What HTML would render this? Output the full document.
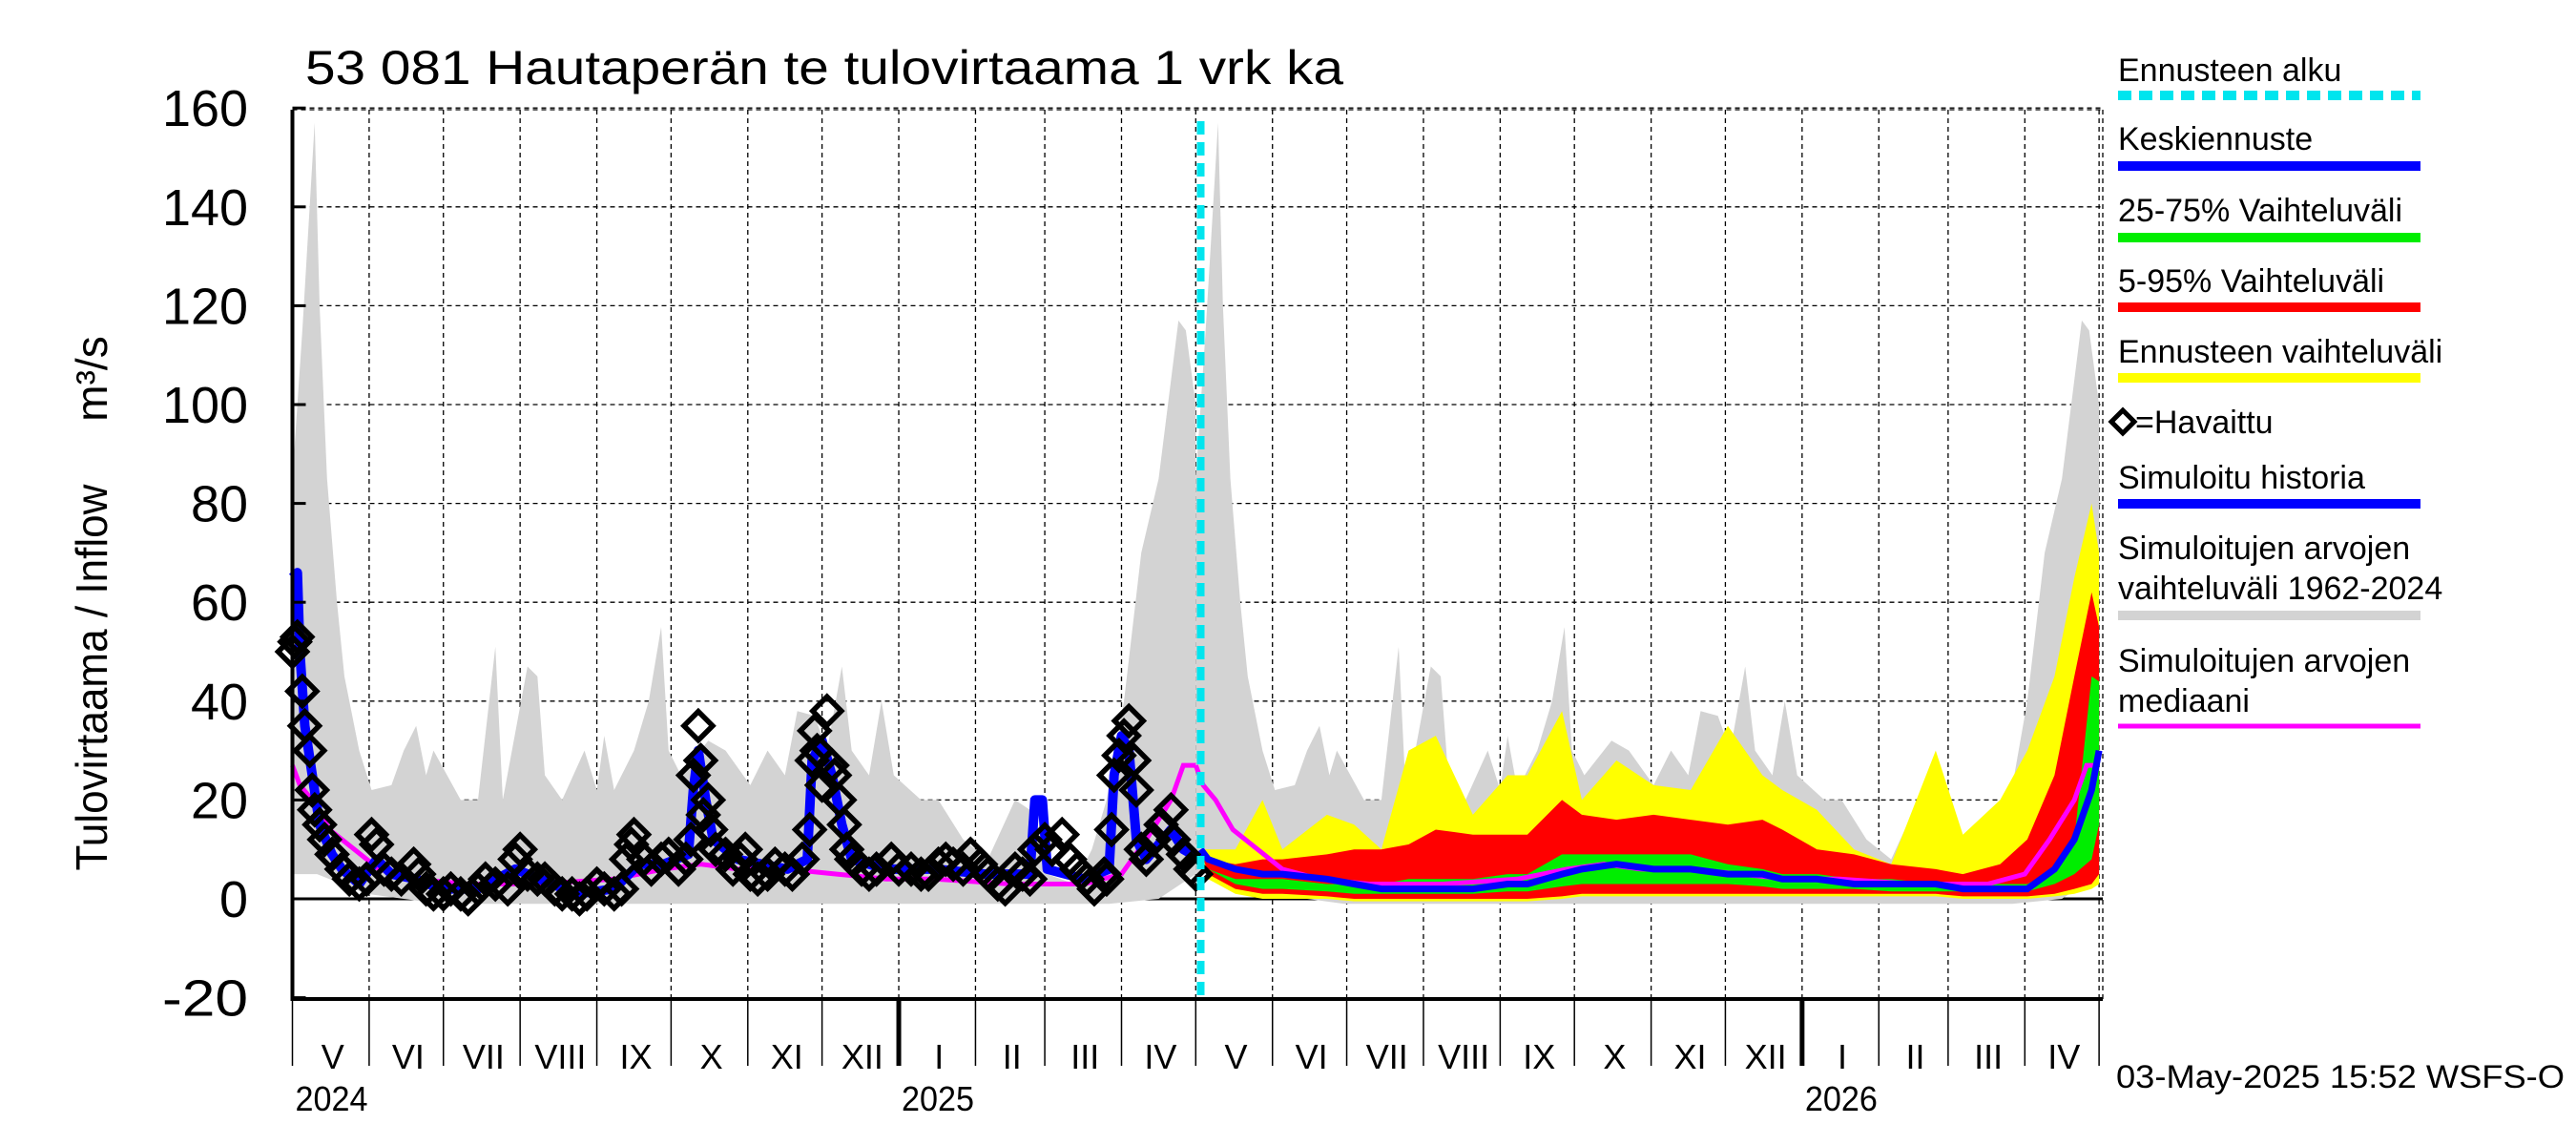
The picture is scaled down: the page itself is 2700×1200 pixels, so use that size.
<!DOCTYPE html>
<html><head><meta charset="utf-8"><style>
html,body{margin:0;padding:0;background:#fff;}
svg{display:block;font-family:"Liberation Sans",sans-serif;}
</style></head><body>
<svg id="chart" width="2700" height="1200" viewBox="0 0 2700 1200" xmlns="http://www.w3.org/2000/svg">
<rect x="0" y="0" width="2700" height="1200" fill="#fff"/>
<text x="320" y="88" font-size="50" textLength="1088" lengthAdjust="spacingAndGlyphs">53 081 Hautaperän te tulovirtaama 1 vrk ka</text>
<text transform="translate(112,710) rotate(-90)" font-size="46" text-anchor="middle" textLength="405" lengthAdjust="spacingAndGlyphs">Tulovirtaama / Inflow</text>
<text transform="translate(112,397) rotate(-90)" font-size="46" text-anchor="middle">m³/s</text>
<g id="grid"></g>
<g id="series"></g>
<g id="axes"></g>
<g id="legend"></g>
<text x="2218" y="1140" font-size="34" textLength="470" lengthAdjust="spacingAndGlyphs">03-May-2025 15:52 WSFS-O</text>
</svg>
<script>
// ---- data ----
const yTicks = [-20,0,20,40,60,80,100,120,140,160];
const monthLabels = ["V","VI","VII","VIII","IX","X","XI","XII","I","II","III","IV","V","VI","VII","VIII","IX","X","XI","XII","I","II","III","IV"];
const monthStarts = [0,31,61,92,123,153,184,214,245,276,304,335,365,396,426,457,488,518,549,579,610,641,669,700,730];
const yearLabels = ["2024","2025","2026"];
const yearDays = [0,245,610];
const forecastStart = 367;

// climatology (annual, days from May 1)
const climDays = [0,4,9,11,14,18,21,27,32,40,45,50,54,57,68,75,82,85,95,99,102,109,118,123,126,130,138,144,149,152,157,168,175,185,192,199,204,211,216,222,226,233,238,243,254,261,271,281,292,298,305,316,323,329,336,343,350,355,358,361,365];
const climMax = [85,115,157,120,85,60,45,30,22,23,30,35,25,30,20,20,51,20,47,45,25,20,30,22,33,22,30,40,55,30,25,32,30,23,30,25,38,37,30,47,30,25,40,25,20,20,12,8,20,18,5,3,10,20,40,70,85,105,117,115,100];
const climMinDays = [0,10,20,30,60,150,250,330,350,365];
const climMin = [5,5,3,1,-1,-1,-1,-1,0,5];
const medDays = [0,3,8,15,25,35,50,70,100,130,150,165,180,200,220,240,260,290,320,335,345,355,360,365];
const medVals = [27,23,20,14,10,6,4,3,3,4,6,7,6,6,5,4,4,3,3,5,12,20,27,27];

// observations
const obsDays = [0,1,2,4,5,7,8,9,11,13,16,20,23,27,30,32,34,37,40,44,49,51,54,57,61,64,68,71,75,78,82,87,90,92,95,99,102,106,109,113,116,119,123,126,130,133,135,137,138,142,145,149,152,156,159,161,162,164,165,166,168,169,171,175,178,181,183,185,188,192,195,199,202,206,209,210,211,212,214,216,218,219,221,223,224,226,230,233,236,242,245,250,254,257,261,264,267,271,274,278,281,285,288,292,295,298,300,304,307,311,314,317,321,324,328,329,331,332,334,336,338,340,341,343,345,348,351,355,356,360,363,365];
const obsVals = [50,52,53,42,35,30,22,18,15,12,9,6,4,3,4,13,11,6,5,4,7,5,2,1,1,2,1,0,2,4,3,2,8,10,5,4,4,2,1,1,0,1,3,2,1,2,8,11,13,8,6,8,9,6,8,12,25,35,28,17,20,14,10,9,6,8,10,5,4,5,7,6,5,8,14,28,34,30,23,38,27,25,20,15,10,8,6,5,6,8,6,6,5,5,7,8,7,6,9,7,5,3,2,6,5,4,10,12,10,13,8,6,4,2,5,4,14,25,29,33,36,28,22,10,8,12,15,18,12,9,6,5];
// simulated history
const histDays = [0,2,3,5,8,11,16,20,27,34,40,50,60,75,90,100,115,130,140,150,160,162,164,167,170,180,200,208,210,214,218,222,226,240,260,280,298,300,303,305,320,330,332,335,338,341,345,355,360,367];
const histVals = [65,66,50,35,25,15,9,6,3,8,5,4,2,2,6,4,1,2,7,7,9,22,30,20,12,8,6,8,28,32,25,15,8,6,6,5,5,20,20,6,4,6,25,33,30,12,8,14,10,8];

// forecast (days from May 1 2024)
const fcDays = [367,370,381,392,400,418,429,440,451,462,477,491,499,513,521,535,550,565,580,594,602,616,631,646,664,675,690,701,712,720,727,730];
const fcMax  = [10,10,10,20,10,17,15,10,30,33,17,25,25,38,20,28,23,22,35,25,22,18,10,7,30,13,20,30,45,65,80,70];
const fcP95  = [10,8,7,8,8,9,10,10,11,14,13,13,13,20,17,16,17,16,15,16,14,10,9,7,6,5,7,12,25,45,62,55];
const fcP75  = [10,6,4,4,4,3,3,3,4,4,4,5,5,9,9,9,9,9,7,6,5,5,4,4,3,3,3,3,6,12,45,44];
const fcMean = [10,8,6,5,5,4,3,2,2,2,2,3,3,5,6,7,6,6,5,5,4,4,3,3,3,2,2,2,6,12,22,30];
const fcP25  = [10,6,3,2,2,1.5,1,1,1,1,1,1.5,1.5,2.5,3,3,3,3,3,2.5,2,2,2,1.5,1.5,1.5,1.5,1.5,3,5,8,15];
const fcP05  = [10,5,2,1,1,0.5,0,0,0,0,0,0,0,0.5,1,1,1,1,1,1,1,1,1,1,1,0.5,0.5,0.5,1,2,3,5];
const fcMin  = [10,4,1,0,0,0,-0.5,-0.5,-0.5,-0.5,-0.5,-0.5,-0.5,0,0.5,0.5,0.5,0.5,0.5,0.5,0.5,0.5,0.5,0.5,0.5,0,0,0,0.5,1,2,3];

// ---- scales ----
const X0 = 306.5, PX_PER_DAY = 2.594, XR = 2204;
const Y0 = 942, PX_PER_UNIT = 5.18, YT = 115, YB = 1047;
function xs(d){ return X0 + d*PX_PER_DAY; }
function ys(v){ return Y0 - v*PX_PER_UNIT; }
const NS = "http://www.w3.org/2000/svg";
function mk(tag, parent, attrs){ const e=document.createElementNS(NS,tag); for(const k in attrs) e.setAttribute(k,attrs[k]); parent.appendChild(e); return e; }
function linePath(ds, vs, off){ return ds.map((d,i)=>(i?"L":"M")+xs(d+off).toFixed(1)+","+ys(vs[i]).toFixed(1)).join(""); }
function bandPath(ds, lo, dsHi, hi, off){
  let p = dsHi.map((d,i)=>(i?"L":"M")+xs(d+off).toFixed(1)+","+ys(hi[i]).toFixed(1)).join("");
  for(let i=ds.length-1;i>=0;i--) p += "L"+xs(ds[i]+off).toFixed(1)+","+ys(lo[i]).toFixed(1);
  return p+"Z";
}
const grid = document.getElementById('grid'), series = document.getElementById('series'), axes = document.getElementById('axes'), legend = document.getElementById('legend');

// grid
yTicks.forEach(t=>{
  if(t===-20) return;
  const l = mk('line', grid, {x1:X0,x2:XR,y1:ys(t),y2:ys(t),stroke:'#000','stroke-width':t===0?3:1.3,'stroke-dasharray':t===0?'none':'5,4'});
  
  
});
monthStarts.forEach(d=>{
  if(d===0) return;
  const l = mk('line', grid, {x1:xs(d),x2:xs(d),y1:YT,y2:YB,stroke:'#000','stroke-width':1.3,'stroke-dasharray':'5,4'});
  
  
});

// climatology band (two years)
[0,365].forEach(off=>{
  const p = mk('path', series, {d:bandPath(climMinDays, climMin, climDays, climMax, off), fill:'#d3d3d3'});
  
  
});
mk('rect', series, {x:XR+1,y:0,width:500,height:1200,fill:'#fff'});

// forecast bands
function fband(lo, hi, col, name){
  const p = mk('path', series, {d:bandPath(fcDays, lo, fcDays, hi, 0), fill:col});
  
  
}
fband(fcMin, fcMax, '#ffff00', 'forecast-range-band');
fband(fcP05, fcP95, '#ff0000', 'band-5-95');
fband(fcP25, fcP75, '#00ee00', 'band-25-75');

// median
[0,365].forEach(off=>{
  const p = mk('path', series, {d:linePath(medDays, medVals, off), fill:'none', stroke:'#ff00ff','stroke-width':5});
  
  
});
// simulated history
const hp = mk('path', series, {d:linePath(histDays, histVals, 0), fill:'none', stroke:'#0000ff','stroke-width':10,'stroke-linejoin':'round'});


// mean forecast
const mp = mk('path', series, {d:linePath(fcDays, fcMean, 0), fill:'none', stroke:'#0000ff','stroke-width':7});


// observations
obsDays.forEach((d,i)=>{
  const cx=xs(d), cy=ys(obsVals[i]), r=15;
  const p = mk('path', series, {d:`M${cx},${cy-r}L${cx+r},${cy}L${cx},${cy+r}L${cx-r},${cy}Z`, fill:'none', stroke:'#000','stroke-width':5.5});
  
  
});
// forecast start line
const fl = mk('line', series, {x1:xs(forecastStart),x2:xs(forecastStart),y1:YT+12,y2:YB,stroke:'#00e5ee','stroke-width':8,'stroke-dasharray':'14,8'});



// axes
mk('line', axes, {x1:X0,x2:X0,y1:YT,y2:YB,stroke:'#000','stroke-width':4});
mk('line', axes, {x1:X0-2,x2:XR,y1:YB,y2:YB,stroke:'#000','stroke-width':4});
mk('line', axes, {x1:X0,x2:XR,y1:YT,y2:YT,stroke:'#000','stroke-width':1.3,'stroke-dasharray':'5,4'});
mk('line', axes, {x1:XR,x2:XR,y1:YT,y2:YB,stroke:'#000','stroke-width':1.3,'stroke-dasharray':'5,4'});
yTicks.forEach(t=>{
  const tk = mk('line', axes, {x1:X0,x2:X0+14,y1:ys(t),y2:ys(t),stroke:'#000','stroke-width':3});
  
  
  const s = String(t);
  const tx = mk('text', axes, {x:260,y:ys(t)+19,'font-size':54,'text-anchor':'end',textLength:s.length*30,lengthAdjust:'spacingAndGlyphs'});
  tx.textContent = s;
  
  
});
monthStarts.forEach(d=>{
  const isYear = yearDays.includes(d) && d>0;
  const l = mk('line', axes, {x1:xs(d),x2:xs(d),y1:YB,y2:1117,stroke:'#000','stroke-width':isYear?5:1.5});
  
  
});
monthLabels.forEach((m,i)=>{
  const c = (xs(monthStarts[i])+xs(monthStarts[i+1]))/2;
  const t = mk('text', axes, {x:c+2,y:1120,'font-size':36,'text-anchor':'middle'});
  t.textContent = m;
  
  
});
yearLabels.forEach((y,i)=>{
  const t = mk('text', axes, {x:xs(yearDays[i])+3,y:1164,'font-size':36,textLength:76,lengthAdjust:'spacingAndGlyphs'});
  t.textContent = y;
  
  
});

// legend
const LX=2220, LX2=2537;
const legItems = [
  {t:["Ennusteen alku"], ty:[85], ly:100, col:'#00e5ee', dash:'14,8'},
  {t:["Keskiennuste"], ty:[157], ly:174, col:'#0000ff'},
  {t:["25-75% Vaihteluväli"], ty:[232], ly:249, col:'#00ee00'},
  {t:["5-95% Vaihteluväli"], ty:[306], ly:322, col:'#ff0000'},
  {t:["Ennusteen vaihteluväli"], ty:[380], ly:396, col:'#ffff00'},
  {t:["Simuloitu historia"], ty:[512], ly:528, col:'#0000ff'},
  {t:["Simuloitujen arvojen","vaihteluväli 1962-2024"], ty:[586,628], ly:645, col:'#d3d3d3'},
  {t:["Simuloitujen arvojen","mediaani"], ty:[704,746], ly:761, col:'#ff00ff', w:5}
];
legItems.forEach(it=>{
  const g = mk('g', legend, {});
  
  
  it.t.forEach((s,j)=>{ const tx=mk('text', g, {x:LX,y:it.ty[j],'font-size':34}); tx.textContent=s; });
  const a = {x1:LX,x2:LX2,y1:it.ly,y2:it.ly,stroke:it.col,'stroke-width':it.w||10};
  if(it.dash) a['stroke-dasharray']=it.dash;
  mk('line', g, a);
});
const hg = mk('g', legend, {});


mk('path', hg, {d:'M2225,430L2237,442L2225,454L2213,442Z',fill:'none',stroke:'#000','stroke-width':5});
const ht = mk('text', hg, {x:2238,y:454,'font-size':34}); ht.textContent='=Havaittu';
</script>
</body></html>
